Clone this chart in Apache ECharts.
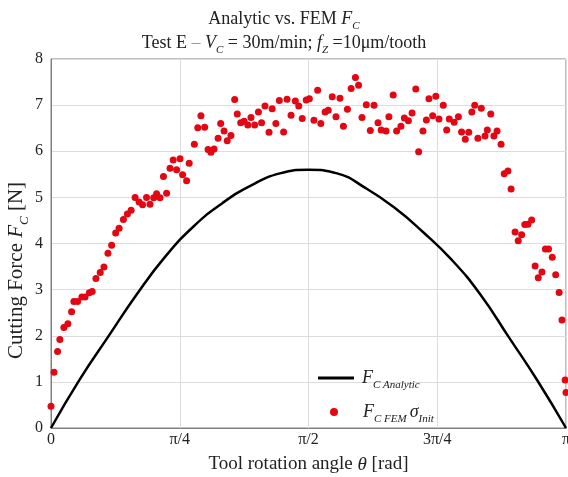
<!DOCTYPE html>
<html>
<head>
<meta charset="utf-8">
<script src="https://cdn.jsdelivr.net/npm/echarts@6/dist/echarts.min.js"></script>
<style>
  html, body { margin: 0; padding: 0; background: #fff; }
  #chart { width: 568px; height: 477px; }
</style>
</head>
<body>
<div id="chart"></div>
<script>
// x in degrees (0..180 = 0..pi), y in N
var xTickLabels = ['0', 'π/4', 'π/2', '3π/4', 'π'];

// analytic curve
var analyticAngle = [0, 10, 20, 30, 40, 50, 60, 70, 80, 90, 100, 110, 120, 130, 140, 150, 160, 170, 180];
var analyticForce = [0, 1.05, 1.98, 2.9, 3.72, 4.38, 4.88, 5.26, 5.52, 5.6, 5.52, 5.2, 4.78, 4.25, 3.65, 2.9, 1.97, 1.03, 0];

// FEM points
var femAngle = [0, 1.05, 2.3, 3.1, 4.5, 5.9, 7.2, 8.0, 9.3, 10.8, 11.9, 13.4, 14.4, 15.7, 17.2, 18.5, 19.9, 21.2, 22.6, 23.8,
  25.3, 26.7, 28.0, 29.4, 30.8, 32.0, 33.4, 34.6, 35.9, 36.9, 38.1, 39.3, 40.4, 41.6, 42.7, 43.9, 45.1, 46.0, 47.4, 48.3,
  50.1, 51.3, 52.4, 53.7, 54.9, 55.9, 57.0, 58.4, 59.3, 60.5, 61.6, 62.9, 64.2, 65.1, 66.3, 67.5, 68.8, 69.9, 71.2, 72.5,
  73.6, 74.8, 76.2, 77.3, 78.6, 79.8, 81.3, 82.5, 83.9, 85.4, 86.6, 87.8, 89.2, 90.3, 91.9, 93.2, 94.3, 95.8, 96.9, 98.3,
  99.6, 101.0, 102.2, 103.6, 104.9, 106.4, 107.5, 108.7, 110.2, 111.6, 112.9, 114.3, 115.4, 117.1, 118.1, 119.6, 120.8, 122.3, 123.5, 124.9,
  126.2, 127.5, 128.5, 130.0, 131.2, 132.1, 133.4, 134.5, 135.6, 137.1, 138.3, 139.2, 140.9, 142.4, 143.5, 144.8, 146.0, 147.1, 148.1, 149.2,
  150.4, 151.7, 152.5, 153.7, 154.8, 155.9, 157.3, 158.4, 159.7, 160.8, 162.2, 163.3, 164.5, 165.6, 166.7, 168.0, 169.2, 170.3, 171.6, 172.8,
  173.9, 175.2, 176.4, 177.6, 178.6, 179.7, 180];
var femForce = [0.47, 1.21, 1.66, 1.92, 2.18, 2.26, 2.52, 2.74, 2.74, 2.84, 2.84, 2.93, 2.96, 3.24, 3.37, 3.49, 3.79, 3.96, 4.23, 4.33,
  4.52, 4.64, 4.72, 5.0, 4.90, 4.84, 5.0, 4.85, 4.99, 5.08, 4.99, 5.45, 5.09, 5.63, 5.81, 5.60, 5.84, 5.49, 5.36, 5.74,
  6.15, 6.51, 6.77, 6.52, 6.04, 5.98, 6.05, 6.28, 6.60, 6.44, 6.23, 6.34, 7.12, 6.81, 6.62, 6.65, 6.57, 6.73, 6.57, 6.85,
  6.62, 6.98, 6.41, 6.92, 6.60, 7.10, 6.42, 7.13, 6.78, 7.09, 6.98, 6.71, 7.11, 7.14, 6.67, 7.32, 6.60, 6.85, 6.89, 7.18,
  6.75, 7.15, 6.54, 6.91, 7.36, 7.60, 7.43, 6.73, 7.01, 6.45, 7.0, 6.62, 6.46, 6.44, 6.75, 7.22, 6.44, 6.54, 6.72, 6.66,
  6.83, 7.35, 5.99, 6.44, 6.68, 7.14, 6.77, 7.19, 6.70, 7.0, 6.46, 6.70, 6.63, 6.75, 6.42, 6.26, 6.41, 6.85, 7.0, 6.28,
  6.93, 6.33, 6.46, 6.81, 6.33, 6.44, 6.15, 5.51, 5.57, 5.18, 4.25, 4.06, 4.19, 4.41, 4.42, 4.51, 3.51, 3.26, 3.38, 3.88,
  3.88, 3.70, 3.32, 2.94, 2.34, 1.04, 0.77];

var zip = function(a, b) {
  var out = [];
  for (var i = 0; i < a.length; i++) out.push([a[i], b[i]]);
  return out;
};

var FONT = '"Liberation Serif", "Times New Roman", serif';
var sub = function(size) {
  return { fontFamily: FONT, fontStyle: 'italic', fontSize: size, color: '#222', verticalAlign: 'bottom', padding: [0, 0, -4, 0] };
};
var ital = function(size) {
  return { fontFamily: FONT, fontStyle: 'italic', fontSize: size, color: '#222' };
};

var myChart = echarts.init(document.getElementById('chart'));

var option = {
  backgroundColor: '#fff',
  textStyle: { fontFamily: FONT },
  title: {
    left: 'center',
    top: 5,
    itemGap: 2,
    text: 'Analytic vs. FEM {i|F}{s|C}',
    textStyle: {
      fontFamily: FONT, fontWeight: 'normal', fontSize: 18, color: '#222',
      rich: { i: ital(18), s: sub(11) }
    },
    subtext: 'Test E {g|–} {i|V}{s|C} = 30m/min; {i|f}{s|Z} =10μm/tooth',
    subtextStyle: {
      fontFamily: FONT, fontSize: 18, color: '#222',
      rich: {
        g: { fontFamily: FONT, fontSize: 18, color: '#999' },
        i: ital(18),
        s: sub(11)
      }
    }
  },
  grid: {
    left: 51, right: 2, top: 59, bottom: 49,
    outerBoundsMode: 'none',
    containLabel: false,
    show: true, borderColor: '#808080', borderWidth: 1
  },
  legend: [
    {
      left: 313, top: 364, orient: 'vertical',
      itemWidth: 36, itemHeight: 14,
      data: [{ name: 'analytic', icon: 'path://M0,6 L36,6 L36,9 L0,9 Z' }],
      formatter: function() { return '{i|F}{s|C Analytic}'; },
      textStyle: { color: '#222', padding: [0, 0, 0, 3], rich: { i: ital(18), s: sub(11) } }
    },
    {
      left: 325, top: 398, orient: 'vertical',
      itemWidth: 8, itemHeight: 8,
      data: [{ name: 'fem', icon: 'circle' }],
      formatter: function() { return '{i|F}{s|C FEM} {i|σ}{s|Init}'; },
      textStyle: { color: '#222', padding: [0, 0, 0, 20], rich: { i: ital(18), s: sub(11) } }
    }
  ],
  xAxis: {
    type: 'value',
    min: 0, max: 180, interval: 45,
    name: 'Tool rotation angle {i|θ} [rad]',
    nameLocation: 'middle',
    nameGap: 27,
    nameTextStyle: { fontFamily: FONT, fontSize: 19, color: '#222', rich: { i: ital(19) } },
    axisLine: { show: true, lineStyle: { color: '#808080', width: 1 } },
    axisTick: { show: false },
    axisLabel: {
      fontFamily: FONT, fontSize: 16, color: '#222', margin: 4,
      formatter: function(v) { return xTickLabels[Math.round(v / 45)]; }
    },
    splitLine: { show: true, lineStyle: { color: '#dcdcdc', width: 1 } }
  },
  yAxis: {
    type: 'value',
    min: 0, max: 8, interval: 1,
    name: 'Cutting Force {i|F}{s|C} [N]',
    nameLocation: 'middle',
    nameGap: 24,
    nameMoveOverlap: false,
    nameTextStyle: {
      fontFamily: FONT, fontSize: 21, color: '#222', padding: [0, 54, 0, 0],
      rich: { i: ital(21), s: sub(13) }
    },
    axisLine: { show: true, lineStyle: { color: '#808080', width: 1 } },
    axisTick: { show: false },
    axisLabel: { fontFamily: FONT, fontSize: 16, color: '#222', margin: 8 },
    splitLine: { show: true, lineStyle: { color: '#dcdcdc', width: 1 } }
  },
  series: [
    {
      name: 'analytic',
      type: 'line',
      data: zip(analyticAngle, analyticForce),
      smooth: true,
      symbol: 'none',
      lineStyle: { color: '#000', width: 2.5 },
      itemStyle: { color: '#000' },
      z: 3
    },
    {
      name: 'fem',
      type: 'scatter',
      data: zip(femAngle, femForce),
      symbol: 'circle',
      symbolSize: 7,
      itemStyle: { color: '#e30613', opacity: 1 },
      clip: false,
      z: 4
    }
  ]
};

myChart.setOption(option);
</script>
</body>
</html>
